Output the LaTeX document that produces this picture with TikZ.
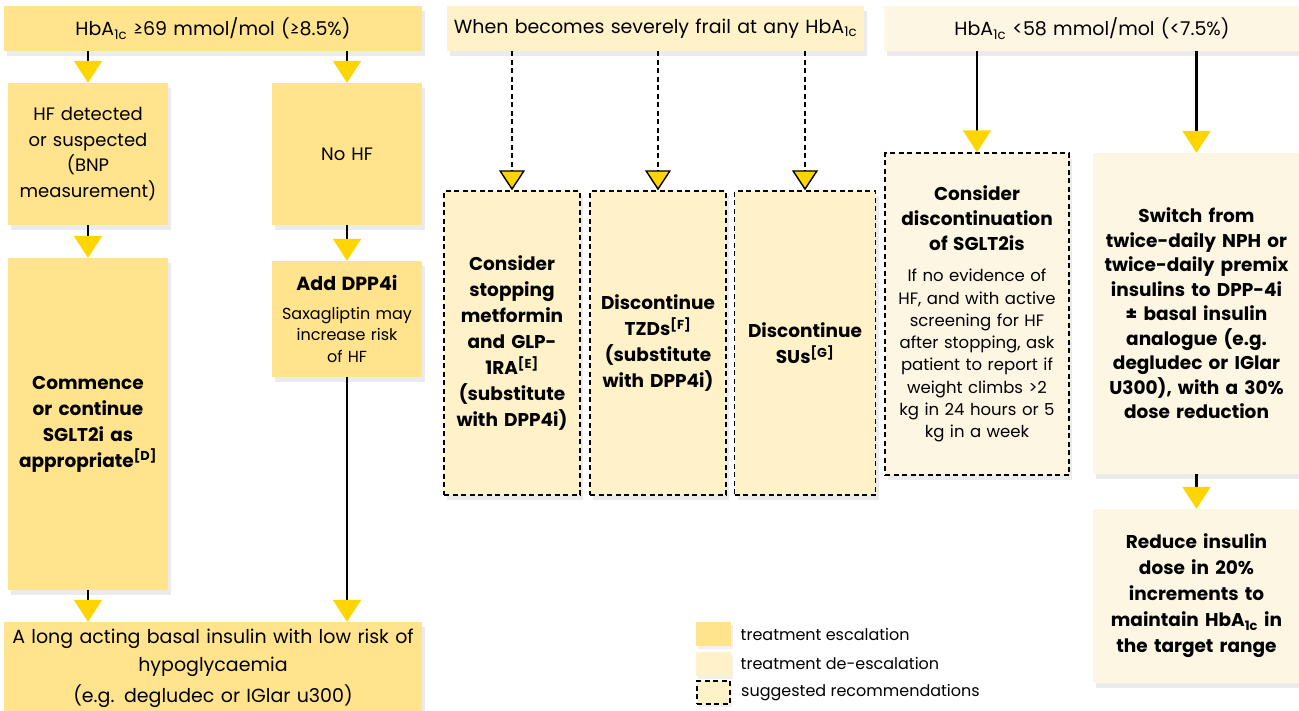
\documentclass[tikz,border=0pt]{standalone}
\usepackage{fontspec}
\setmainfont{Poppins}
\usetikzlibrary{arrows.meta,shadows,positioning}
\definecolor{escal}{HTML}{FFE38D}
\definecolor{deesc}{HTML}{FFF2C8}
\definecolor{pale}{HTML}{FDF6E3}
\definecolor{tipyel}{HTML}{FFD500}

\begin{document}
\begin{tikzpicture}[x=1pt,y=-1pt,
    cell/.style 2 args={text width=#1pt, minimum height=#2pt, inner xsep=0pt, inner ysep=2pt, align=center,
      drop shadow={shadow xshift=3pt, shadow yshift=-5pt, opacity=.16}},
    escbox/.style={fill=escal},
    desbox/.style={fill=deesc},
    palebox/.style={fill=pale},
    hint/.style={draw, line width=1.4pt, dash pattern=on 5pt off 3.5pt},
    hdr/.style={font=\fontsize{19}{24}\selectfont},
    txt/.style={font=\fontsize{18}{25.5}\selectfont},
    strong/.style={font=\fontsize{18.5}{26}\selectfont\bfseries},
    keysq/.style={minimum width=35pt, minimum height=24pt, inner sep=0pt,
      drop shadow={shadow xshift=2pt, shadow yshift=-3pt, opacity=.12}},
    keytxt/.style={font=\fontsize{16}{20}\selectfont, anchor=west},
    feed/.style={draw, line width=2.2pt, -{Triangle[width=28pt, length=22pt, color=tipyel]}},
    hintfeed/.style={draw, line width=1.4pt, dash pattern=on 5pt off 3.5pt, -{Triangle[width=26pt, length=20pt, fill=tipyel]}}]
  \useasboundingbox (0,0) rectangle (1299,710);

  \node[cell={418}{45}, escbox, hdr] (hdrA) at (213,28.5) {HbA\textsubscript{1c} ≥69 mmol/mol (≥8.5\%)};
  \node[cell={417}{45}, desbox, hdr] (hdrB) at (655.5,28.5) {When becomes severely frail at any HbA\textsubscript{1c}};
  \node[cell={416}{45}, palebox, hdr] (hdrC) at (1092,28.5) {HbA\textsubscript{1c} <58 mmol/mol (<7.5\%)};

  \node[cell={160}{142}, escbox, txt] (hf) at (88,154) {HF detected\\or suspected\\(BNP\\measurement)};
  \node[cell={150}{142}, escbox, txt] (nohf) at (347,154) {No HF};
  \node[cell={160}{332}, escbox, strong] (commence) at (88,424) {Commence\\or continue\\SGLT2i as\\appropriate\textsuperscript{[D]}};
  \node[cell={150}{116}, escbox, font=\fontsize{16}{21.5}\selectfont] (adddpp) at (347,319)
    {{\fontsize{19}{26}\selectfont\bfseries Add DPP4i\par}\vspace{7pt}Saxagliptin may\\increase risk\\of HF};
  \node[cell={418}{92}, escbox, font=\fontsize{19}{28}\selectfont] (insulin) at (213,668)
    {A long acting basal insulin with low risk of\\hypoglycaemia\\[3pt](e.g. degludec or IGlar u300)};

  \node[cell={136}{304}, desbox, hint, strong] (stopmet) at (512,343) {Consider\\stopping\\metformin\\and GLP-\\1RA\textsuperscript{[E]}\\(substitute\\with DPP4i)};
  \node[cell={136}{304}, desbox, hint, strong] (stoptzd) at (658,343) {Discontinue\\TZDs\textsuperscript{[F]}\\(substitute\\with DPP4i)};
  \node[cell={141}{304}, desbox, hint, strong] (stopsu) at (805,343) {Discontinue\\SUs\textsuperscript{[G]}};

  \node[cell={184}{322}, palebox, hint, font=\fontsize{16.5}{22.3}\selectfont] (stopsglt) at (977,314)
    {{\fontsize{18.5}{25}\selectfont\bfseries Consider\\discontinuation\\of SGLT2is\par}\vspace{9pt}If no evidence of\\HF, and with active\\screening for HF\\after stopping, ask\\patient to report if\\weight climbs >2\\kg in 24 hours or 5\\kg in a week};
  \node[cell={207}{321}, palebox, strong, font=\fontsize{18.5}{24.5}\selectfont\bfseries] (switch) at (1196.5,313.5)
    {Switch from\\twice-daily NPH or\\twice-daily premix\\insulins to DPP-4i\\± basal insulin\\analogue (e.g.\\degludec or IGlar\\U300), with a 30\%\\dose reduction};
  \node[cell={207}{174}, palebox, strong] (reduce) at (1196.5,596)
    {Reduce insulin\\dose in 20\%\\increments to\\maintain HbA\textsubscript{1c} in\\the target range};

  \node[keysq, fill=escal] (keyesc) at (713.5,634) {};
  \node[keysq, fill=deesc] (keydes) at (713.5,663.5) {};
  \node[keysq, fill=deesc, hint, minimum width=33pt, minimum height=23pt] (keyhint) at (713.5,692.5) {};
  \node[keytxt, right=6pt of keyesc] {treatment escalation};
  \node[keytxt, right=6pt of keydes] {treatment de-escalation};
  \node[keytxt, right=7pt of keyhint] {suggested recommendations};

  \foreach \a / \b in {hdrA/hf, hdrA/nohf, hf/commence, nohf/adddpp, hdrC/stopsglt, hdrC/switch, switch/reduce} {
    \path[feed] (\b.north |- \a.south) -- (\b.north);
  }
  \foreach \a / \b in {commence/insulin, adddpp/insulin} {
    \path[feed] (\a.south) -- (\a.south |- \b.north);
  }
  \foreach \b in {stopmet, stoptzd, stopsu} {
    \path[hintfeed] (\b.north |- hdrB.south) -- (\b.north);
  }
\end{tikzpicture}
\end{document}
